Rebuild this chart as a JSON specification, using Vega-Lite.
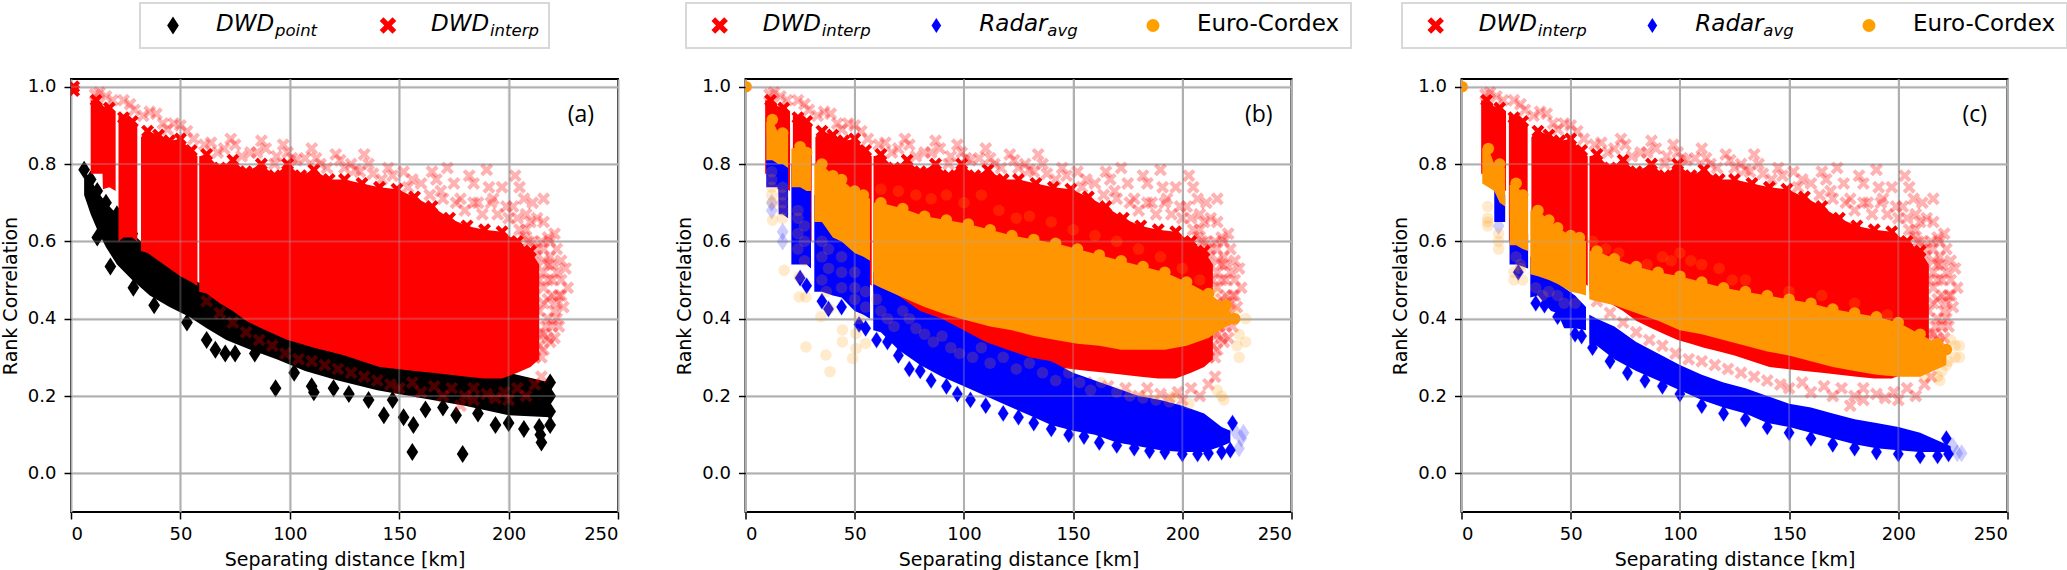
{"$schema":"https://vega.github.io/schema/vega-lite/v6.json","padding":{"top":2,"left":0,"right":0,"bottom":0},"background":"white","config":{"view":{"stroke":"black","strokeWidth":2},"font":"DejaVu Sans","axis":{"labelFont":"DejaVu Sans","titleFont":"DejaVu Sans","labelFontSize":18,"titleFontSize":19,"titleFontWeight":"normal","labelColor":"black","titleColor":"black","tickColor":"black","tickSize":7,"tickWidth":1.5,"domain":false,"grid":true,"gridColor":"#b0b0b0","gridWidth":2,"labelPadding":8},"axisX":{"titlePadding":7,"labelPadding":6},"axisY":{"titlePadding":7}},
"datasets":{
"gx":[{"x":50},{"x":100},{"x":150},{"x":200}],
"gy":[{"y":0},{"y":0.2},{"y":0.4},{"y":0.6},{"y":0.8},{"y":1}],
"one":[{"x":0.3,"y":1}],
"la":[{"x":233,"y":0.927,"t":"(a)"}],"lb":[{"x":235,"y":0.927,"t":"(b)"}],"lc":[{"x":235,"y":0.927,"t":"(c)"}],
"redO":[{"x":1.2,"y":1},{"x":1.2,"y":0.99}],
"redA":[{"g":1,"x":9,"y":0.965,"y2":0.775,"m":0},{"g":1,"x":11.5,"y":0.965,"y2":0.775},{"g":1,"x":14.4,"y":0.955,"y2":0.775,"m":0},{"g":1,"x":14.6,"y":0.95,"y2":0.735,"m":0},{"g":1,"x":17.5,"y":0.945,"y2":0.74},{"g":1,"x":20.4,"y":0.935,"y2":0.73,"m":0},{"g":2,"x":21.7,"y":0.925,"y2":0.6,"m":0},{"g":2,"x":24,"y":0.92,"y2":0.61},{"g":2,"x":28,"y":0.91,"y2":0.61},{"g":2,"x":30.3,"y":0.9,"y2":0.6,"m":0},{"g":3,"x":32,"y":0.87,"y2":0.575,"m":0},{"g":3,"x":35,"y":0.885,"y2":0.57},{"g":3,"x":40,"y":0.875,"y2":0.55},{"g":3,"x":45,"y":0.86,"y2":0.53},{"g":3,"x":50,"y":0.865,"y2":0.51},{"g":3,"x":55,"y":0.835,"y2":0.495},{"g":3,"x":57.8,"y":0.82,"y2":0.485,"m":0},{"g":4,"x":58.6,"y":0.82,"y2":0.47,"m":0},{"g":4,"x":62,"y":0.825,"y2":0.465},{"g":4,"x":68,"y":0.79,"y2":0.44},{"g":4,"x":74,"y":0.81,"y2":0.42},{"g":4,"x":80,"y":0.78,"y2":0.395},{"g":4,"x":87,"y":0.8,"y2":0.375},{"g":4,"x":93,"y":0.77,"y2":0.36},{"g":4,"x":99,"y":0.8,"y2":0.345},{"g":4,"x":105,"y":0.77,"y2":0.335},{"g":4,"x":111,"y":0.785,"y2":0.325},{"g":4,"x":118,"y":0.76,"y2":0.315},{"g":4,"x":125,"y":0.76,"y2":0.305},{"g":4,"x":133,"y":0.75,"y2":0.29},{"g":4,"x":141,"y":0.74,"y2":0.275},{"g":4,"x":149,"y":0.735,"y2":0.27},{"g":4,"x":157,"y":0.715,"y2":0.265},{"g":4,"x":165,"y":0.69,"y2":0.26},{"g":4,"x":173,"y":0.66,"y2":0.255},{"g":4,"x":181,"y":0.64,"y2":0.25},{"g":4,"x":189,"y":0.63,"y2":0.245},{"g":4,"x":197,"y":0.625,"y2":0.245},{"g":4,"x":204,"y":0.6,"y2":0.26},{"g":4,"x":210,"y":0.575,"y2":0.275},{"g":4,"x":214,"y":0.54,"y2":0.295,"m":0}],
"redPts":[{"x":11,"y":0.98},{"x":13,"y":0.985},{"x":16,"y":0.975},{"x":19,"y":0.965},{"x":24,"y":0.965},{"x":27,"y":0.955},{"x":29,"y":0.94},{"x":33,"y":0.925},{"x":36,"y":0.935},{"x":39,"y":0.93},{"x":42,"y":0.905},{"x":44,"y":0.89},{"x":47,"y":0.905},{"x":50,"y":0.9},{"x":53,"y":0.885},{"x":56,"y":0.865},{"x":61,"y":0.85},{"x":64,"y":0.855},{"x":67,"y":0.83},{"x":70,"y":0.84},{"x":73,"y":0.865},{"x":75,"y":0.85},{"x":78,"y":0.82},{"x":85,"y":0.83},{"x":87,"y":0.86},{"x":89,"y":0.84},{"x":93,"y":0.8},{"x":97,"y":0.85},{"x":99,"y":0.83},{"x":101,"y":0.815},{"x":107,"y":0.815},{"x":110,"y":0.84},{"x":112,"y":0.815},{"x":117,"y":0.79},{"x":121,"y":0.825},{"x":123,"y":0.81},{"x":125,"y":0.79},{"x":130,"y":0.785},{"x":134,"y":0.825},{"x":136,"y":0.8},{"x":138,"y":0.775},{"x":145,"y":0.79},{"x":147,"y":0.77},{"x":152,"y":0.78},{"x":156,"y":0.76},{"x":160,"y":0.75},{"x":165,"y":0.78},{"x":167,"y":0.76},{"x":169,"y":0.73},{"x":172,"y":0.79},{"x":175,"y":0.75},{"x":178,"y":0.71},{"x":182,"y":0.77},{"x":184,"y":0.75},{"x":186,"y":0.7},{"x":190,"y":0.785},{"x":191,"y":0.74},{"x":193,"y":0.71},{"x":197,"y":0.74},{"x":199,"y":0.69},{"x":203,"y":0.77},{"x":205,"y":0.74},{"x":207,"y":0.71},{"x":208,"y":0.67},{"x":211,"y":0.7},{"x":213,"y":0.66},{"x":216,"y":0.71},{"x":216,"y":0.65},{"x":218,"y":0.61},{"x":219,"y":0.56},{"x":221,"y":0.62},{"x":222,"y":0.58},{"x":222,"y":0.52},{"x":223,"y":0.46},{"x":224,"y":0.55},{"x":224,"y":0.5},{"x":225,"y":0.43},{"x":226,"y":0.53},{"x":227,"y":0.48},{"x":220,"y":0.5},{"x":218,"y":0.45},{"x":216,"y":0.55},{"x":214,"y":0.5},{"x":221,"y":0.42},{"x":223,"y":0.38},{"x":217,"y":0.38},{"x":214,"y":0.42},{"x":219,"y":0.34},{"x":221,"y":0.35},{"x":216,"y":0.32},{"x":205,"y":0.63},{"x":207,"y":0.61},{"x":209,"y":0.6},{"x":211,"y":0.6},{"x":213,"y":0.58},{"x":215,"y":0.6},{"x":210,"y":0.65},{"x":200,"y":0.66},{"x":195,"y":0.67},{"x":188,"y":0.67},{"x":180,"y":0.68},{"x":170,"y":0.71},{"x":216,"y":0.36},{"x":216,"y":0.44},{"x":216,"y":0.48},{"x":216,"y":0.52},{"x":218,"y":0.35},{"x":218,"y":0.4},{"x":218,"y":0.5},{"x":218,"y":0.54},{"x":220,"y":0.38},{"x":220,"y":0.46},{"x":220,"y":0.54},{"x":222,"y":0.44},{"x":222,"y":0.4},{"x":224,"y":0.46},{"x":212,"y":0.3},{"x":214,"y":0.33},{"x":214,"y":0.36},{"x":215,"y":0.3},{"x":212,"y":0.56},{"x":216,"y":0.58},{"x":219,"y":0.6},{"x":208,"y":0.63},{"x":204,"y":0.66},{"x":202,"y":0.69},{"x":192,"y":0.7},{"x":184,"y":0.7},{"x":176,"y":0.7},{"x":164,"y":0.72},{"x":154,"y":0.74},{"x":142,"y":0.76},{"x":132,"y":0.78},{"x":128,"y":0.8},{"x":114,"y":0.8},{"x":103,"y":0.81},{"x":94,"y":0.82},{"x":82,"y":0.83},{"x":62,"y":0.445},{"x":68,"y":0.415},{"x":74,"y":0.39},{"x":80,"y":0.365},{"x":86,"y":0.345},{"x":92,"y":0.33},{"x":98,"y":0.31},{"x":104,"y":0.295},{"x":110,"y":0.29},{"x":116,"y":0.28},{"x":122,"y":0.27},{"x":128,"y":0.26},{"x":134,"y":0.25},{"x":140,"y":0.24},{"x":146,"y":0.23},{"x":150,"y":0.22},{"x":156,"y":0.235},{"x":160,"y":0.21},{"x":166,"y":0.225},{"x":170,"y":0.2},{"x":174,"y":0.22},{"x":178,"y":0.175},{"x":180,"y":0.2},{"x":184,"y":0.19},{"x":184,"y":0.22},{"x":190,"y":0.205},{"x":194,"y":0.195},{"x":198,"y":0.21},{"x":200,"y":0.19},{"x":204,"y":0.22},{"x":208,"y":0.2},{"x":212,"y":0.23},{"x":215,"y":0.25}],
"blackA":[{"g":1,"x":6,"y":0.785,"y2":0.72},{"g":1,"x":9,"y":0.76,"y2":0.67},{"g":1,"x":12,"y":0.73,"y2":0.63},{"g":1,"x":16,"y":0.7,"y2":0.585},{"g":1,"x":21,"y":0.67,"y2":0.54},{"g":1,"x":28,"y":0.62,"y2":0.5},{"g":1,"x":36,"y":0.58,"y2":0.46},{"g":1,"x":45,"y":0.55,"y2":0.43},{"g":1,"x":54,"y":0.51,"y2":0.405},{"g":1,"x":62,"y":0.48,"y2":0.375},{"g":1,"x":71,"y":0.45,"y2":0.345},{"g":1,"x":82,"y":0.41,"y2":0.32},{"g":1,"x":94,"y":0.38,"y2":0.295},{"g":1,"x":107,"y":0.35,"y2":0.265},{"g":1,"x":122,"y":0.33,"y2":0.24},{"g":1,"x":140,"y":0.31,"y2":0.215},{"g":1,"x":160,"y":0.3,"y2":0.195},{"g":1,"x":180,"y":0.29,"y2":0.175},{"g":1,"x":200,"y":0.26,"y2":0.15},{"g":1,"x":219,"y":0.235,"y2":0.145}],
"blackPts":[{"x":12,"y":0.61},{"x":18,"y":0.535},{"x":28.5,"y":0.48},{"x":38,"y":0.435},{"x":53,"y":0.39},{"x":62,"y":0.345},{"x":66,"y":0.32},{"x":70.5,"y":0.31},{"x":75,"y":0.31},{"x":84,"y":0.31},{"x":93.5,"y":0.22},{"x":102,"y":0.26},{"x":111,"y":0.21},{"x":110,"y":0.225},{"x":120,"y":0.22},{"x":127,"y":0.205},{"x":136,"y":0.19},{"x":143,"y":0.15},{"x":152,"y":0.145},{"x":156,"y":0.055},{"x":156.5,"y":0.125},{"x":147,"y":0.19},{"x":162,"y":0.165},{"x":170,"y":0.17},{"x":176,"y":0.15},{"x":186,"y":0.155},{"x":194,"y":0.125},{"x":200,"y":0.13},{"x":207,"y":0.115},{"x":214,"y":0.12},{"x":215,"y":0.08},{"x":214.5,"y":0.1},{"x":219,"y":0.125},{"x":219,"y":0.16},{"x":219,"y":0.2},{"x":179,"y":0.05}],
"blueBA":[{"g":1,"x":9.5,"y":0.88,"y2":0.74,"m":0},{"g":1,"x":12,"y":0.88,"y2":0.74},{"g":1,"x":15,"y":0.85,"y2":0.74,"m":0},{"g":1,"x":15.2,"y":0.85,"y2":0.67,"m":0},{"g":1,"x":17,"y":0.85,"y2":0.67},{"g":1,"x":19.5,"y":0.84,"y2":0.66,"m":0},{"g":2,"x":21,"y":0.8,"y2":0.54,"m":0},{"g":2,"x":25,"y":0.79,"y2":0.54},{"g":2,"x":28,"y":0.78,"y2":0.54},{"g":2,"x":30,"y":0.78,"y2":0.53,"m":0},{"g":3,"x":31.5,"y":0.72,"y2":0.47,"m":0},{"g":3,"x":35,"y":0.72,"y2":0.47},{"g":3,"x":40,"y":0.66,"y2":0.46},{"g":3,"x":44,"y":0.64,"y2":0.455},{"g":3,"x":50,"y":0.61,"y2":0.42},{"g":3,"x":54,"y":0.6,"y2":0.41},{"g":3,"x":57,"y":0.58,"y2":0.4,"m":0},{"g":4,"x":58.5,"y":0.52,"y2":0.37,"m":0},{"g":4,"x":62,"y":0.51,"y2":0.365},{"g":4,"x":70,"y":0.46,"y2":0.32},{"g":4,"x":80,"y":0.42,"y2":0.28},{"g":4,"x":90,"y":0.4,"y2":0.25},{"g":4,"x":100,"y":0.37,"y2":0.225},{"g":4,"x":110,"y":0.34,"y2":0.2},{"g":4,"x":120,"y":0.32,"y2":0.175},{"g":4,"x":130,"y":0.3,"y2":0.15},{"g":4,"x":140,"y":0.29,"y2":0.125},{"g":4,"x":150,"y":0.26,"y2":0.11},{"g":4,"x":160,"y":0.24,"y2":0.1},{"g":4,"x":170,"y":0.22,"y2":0.08},{"g":4,"x":180,"y":0.2,"y2":0.07},{"g":4,"x":190,"y":0.19,"y2":0.06},{"g":4,"x":200,"y":0.175,"y2":0.055},{"g":4,"x":210,"y":0.155,"y2":0.055},{"g":4,"x":218,"y":0.12,"y2":0.07},{"g":4,"x":222,"y":0.11,"y2":0.08}],
"blueBPts":[{"x":12,"y":0.7},{"x":12,"y":0.68},{"x":17,"y":0.625},{"x":17,"y":0.6},{"x":25,"y":0.505},{"x":28,"y":0.485},{"x":35,"y":0.445},{"x":38,"y":0.425},{"x":44,"y":0.43},{"x":52,"y":0.385},{"x":55,"y":0.375},{"x":60,"y":0.345},{"x":65,"y":0.34},{"x":70,"y":0.305},{"x":75,"y":0.27},{"x":80,"y":0.265},{"x":85,"y":0.24},{"x":92,"y":0.225},{"x":97,"y":0.205},{"x":103,"y":0.19},{"x":110,"y":0.175},{"x":118,"y":0.155},{"x":125,"y":0.145},{"x":132,"y":0.13},{"x":140,"y":0.115},{"x":148,"y":0.1},{"x":155,"y":0.095},{"x":162,"y":0.08},{"x":170,"y":0.072},{"x":178,"y":0.065},{"x":185,"y":0.058},{"x":192,"y":0.055},{"x":200,"y":0.05},{"x":207,"y":0.05},{"x":212,"y":0.052},{"x":218,"y":0.055},{"x":222,"y":0.06},{"x":226,"y":0.065},{"x":228,"y":0.105},{"x":227,"y":0.09},{"x":224,"y":0.11},{"x":223,"y":0.13}],
"orangeBA":[{"g":1,"x":9.5,"y":0.91,"y2":0.81,"m":0},{"g":1,"x":12.3,"y":0.915,"y2":0.81},{"g":1,"x":15,"y":0.88,"y2":0.8,"m":0},{"g":1,"x":17,"y":0.88,"y2":0.8},{"g":1,"x":19.5,"y":0.875,"y2":0.79,"m":0},{"g":2,"x":21,"y":0.84,"y2":0.74,"m":0},{"g":2,"x":25,"y":0.845,"y2":0.74},{"g":2,"x":28,"y":0.83,"y2":0.73},{"g":2,"x":30,"y":0.82,"y2":0.73,"m":0},{"g":3,"x":31.5,"y":0.8,"y2":0.65,"m":0},{"g":3,"x":35,"y":0.8,"y2":0.65},{"g":3,"x":40,"y":0.77,"y2":0.61},{"g":3,"x":44,"y":0.76,"y2":0.6},{"g":3,"x":50,"y":0.73,"y2":0.57},{"g":3,"x":54,"y":0.72,"y2":0.56},{"g":3,"x":57,"y":0.71,"y2":0.55,"m":0},{"g":4,"x":58.5,"y":0.7,"y2":0.49,"m":0},{"g":4,"x":62,"y":0.7,"y2":0.48},{"g":4,"x":72,"y":0.685,"y2":0.455},{"g":4,"x":82,"y":0.665,"y2":0.43},{"g":4,"x":92,"y":0.655,"y2":0.41},{"g":4,"x":102,"y":0.645,"y2":0.395},{"g":4,"x":112,"y":0.63,"y2":0.38},{"g":4,"x":122,"y":0.615,"y2":0.37},{"g":4,"x":132,"y":0.605,"y2":0.355},{"g":4,"x":142,"y":0.595,"y2":0.345},{"g":4,"x":152,"y":0.58,"y2":0.335},{"g":4,"x":162,"y":0.565,"y2":0.33},{"g":4,"x":172,"y":0.55,"y2":0.32},{"g":4,"x":182,"y":0.535,"y2":0.32},{"g":4,"x":192,"y":0.52,"y2":0.32},{"g":4,"x":202,"y":0.495,"y2":0.33},{"g":4,"x":212,"y":0.465,"y2":0.35},{"g":4,"x":220,"y":0.435,"y2":0.38},{"g":4,"x":224,"y":0.4,"y2":0.39}],
"orangeBPts":[{"x":12.4,"y":0.655},{"x":12.4,"y":0.7},{"x":17.7,"y":0.525},{"x":24.6,"y":0.508},{"x":24.6,"y":0.456},{"x":27.7,"y":0.456},{"x":34.5,"y":0.405},{"x":38.3,"y":0.426},{"x":44.4,"y":0.371},{"x":44.4,"y":0.34},{"x":27.7,"y":0.327},{"x":36.8,"y":0.306},{"x":49,"y":0.297},{"x":38.7,"y":0.263},{"x":50.6,"y":0.323},{"x":55,"y":0.336},{"x":50.6,"y":0.362},{"x":12,"y":0.78},{"x":12,"y":0.76},{"x":12,"y":0.74},{"x":12,"y":0.72},{"x":17,"y":0.74},{"x":17,"y":0.72},{"x":17,"y":0.7},{"x":17,"y":0.68},{"x":17,"y":0.66},{"x":24,"y":0.68},{"x":24,"y":0.66},{"x":27,"y":0.64},{"x":24,"y":0.62},{"x":27,"y":0.6},{"x":24,"y":0.58},{"x":27,"y":0.55},{"x":35,"y":0.6},{"x":35,"y":0.56},{"x":38,"y":0.58},{"x":38,"y":0.53},{"x":35,"y":0.5},{"x":37,"y":0.47},{"x":44,"y":0.56},{"x":44,"y":0.52},{"x":44,"y":0.48},{"x":50,"y":0.52},{"x":50,"y":0.48},{"x":50,"y":0.45},{"x":55,"y":0.47},{"x":55,"y":0.43},{"x":52,"y":0.4},{"x":60,"y":0.45},{"x":62,"y":0.42},{"x":65,"y":0.4},{"x":68,"y":0.38},{"x":72,"y":0.42},{"x":75,"y":0.4},{"x":78,"y":0.375},{"x":82,"y":0.36},{"x":86,"y":0.34},{"x":90,"y":0.355},{"x":94,"y":0.325},{"x":98,"y":0.31},{"x":104,"y":0.3},{"x":108,"y":0.325},{"x":112,"y":0.285},{"x":118,"y":0.3},{"x":124,"y":0.27},{"x":130,"y":0.285},{"x":136,"y":0.26},{"x":142,"y":0.24},{"x":148,"y":0.26},{"x":153,"y":0.235},{"x":158,"y":0.215},{"x":163,"y":0.235},{"x":170,"y":0.21},{"x":176,"y":0.2},{"x":182,"y":0.195},{"x":188,"y":0.19},{"x":194,"y":0.185},{"x":196,"y":0.2},{"x":203,"y":0.18},{"x":218,"y":0.2},{"x":219,"y":0.19},{"x":216,"y":0.215},{"x":62,"y":0.735},{"x":70,"y":0.73},{"x":78,"y":0.72},{"x":85,"y":0.71},{"x":92,"y":0.72},{"x":100,"y":0.7},{"x":108,"y":0.72},{"x":116,"y":0.68},{"x":124,"y":0.66},{"x":130,"y":0.665},{"x":140,"y":0.65},{"x":150,"y":0.63},{"x":160,"y":0.615},{"x":170,"y":0.6},{"x":180,"y":0.58},{"x":190,"y":0.56},{"x":200,"y":0.53},{"x":208,"y":0.5},{"x":215,"y":0.47},{"x":220,"y":0.44},{"x":224,"y":0.42},{"x":229,"y":0.4},{"x":229,"y":0.34},{"x":226,"y":0.36},{"x":226,"y":0.3},{"x":225,"y":0.33}],
"blueCA":[{"g":1,"x":15,"y":0.74,"y2":0.65,"m":0},{"g":1,"x":17,"y":0.74,"y2":0.65},{"g":1,"x":20,"y":0.72,"y2":0.65,"m":0},{"g":2,"x":22,"y":0.66,"y2":0.54,"m":0},{"g":2,"x":25,"y":0.66,"y2":0.54},{"g":2,"x":28,"y":0.65,"y2":0.535},{"g":2,"x":30.5,"y":0.62,"y2":0.53,"m":0},{"g":3,"x":31.5,"y":0.56,"y2":0.455,"m":0},{"g":3,"x":35,"y":0.56,"y2":0.46},{"g":3,"x":41,"y":0.52,"y2":0.42,"m":0},{"g":3,"x":44,"y":0.5,"y2":0.415},{"g":3,"x":47,"y":0.48,"y2":0.375,"m":0},{"g":3,"x":52,"y":0.46,"y2":0.375},{"g":3,"x":57,"y":0.43,"y2":0.37,"m":0},{"g":4,"x":58.5,"y":0.41,"y2":0.335,"m":0},{"g":4,"x":62,"y":0.4,"y2":0.33},{"g":4,"x":70,"y":0.38,"y2":0.295},{"g":4,"x":80,"y":0.34,"y2":0.265},{"g":4,"x":90,"y":0.31,"y2":0.24},{"g":4,"x":100,"y":0.28,"y2":0.215},{"g":4,"x":110,"y":0.255,"y2":0.19},{"g":4,"x":120,"y":0.235,"y2":0.17},{"g":4,"x":130,"y":0.22,"y2":0.155},{"g":4,"x":140,"y":0.2,"y2":0.13},{"g":4,"x":150,"y":0.18,"y2":0.12},{"g":4,"x":160,"y":0.17,"y2":0.105},{"g":4,"x":170,"y":0.155,"y2":0.09},{"g":4,"x":180,"y":0.14,"y2":0.075},{"g":4,"x":190,"y":0.13,"y2":0.065},{"g":4,"x":200,"y":0.12,"y2":0.06},{"g":4,"x":210,"y":0.105,"y2":0.055},{"g":4,"x":218,"y":0.085,"y2":0.055},{"g":4,"x":224,"y":0.07,"y2":0.055}],
"blueCPts":[{"x":17,"y":0.64},{"x":26,"y":0.52},{"x":34,"y":0.44},{"x":38,"y":0.435},{"x":44,"y":0.405},{"x":52,"y":0.36},{"x":55,"y":0.355},{"x":60,"y":0.325},{"x":68,"y":0.29},{"x":76,"y":0.26},{"x":84,"y":0.24},{"x":92,"y":0.225},{"x":100,"y":0.205},{"x":110,"y":0.175},{"x":120,"y":0.155},{"x":130,"y":0.14},{"x":140,"y":0.12},{"x":150,"y":0.105},{"x":160,"y":0.09},{"x":170,"y":0.075},{"x":180,"y":0.065},{"x":190,"y":0.055},{"x":200,"y":0.05},{"x":210,"y":0.045},{"x":218,"y":0.045},{"x":223,"y":0.05},{"x":227,"y":0.052},{"x":229,"y":0.052},{"x":225,"y":0.07},{"x":222,"y":0.09}],
"orangeCA":[{"g":1,"x":9.5,"y":0.84,"y2":0.75,"m":0},{"g":1,"x":12.3,"y":0.84,"y2":0.74},{"g":1,"x":15,"y":0.8,"y2":0.73,"m":0},{"g":1,"x":17.5,"y":0.8,"y2":0.7},{"g":1,"x":20,"y":0.79,"y2":0.69,"m":0},{"g":2,"x":22,"y":0.745,"y2":0.59,"m":0},{"g":2,"x":25,"y":0.75,"y2":0.59},{"g":2,"x":28,"y":0.72,"y2":0.58},{"g":2,"x":30.5,"y":0.71,"y2":0.575,"m":0},{"g":3,"x":31.5,"y":0.68,"y2":0.515,"m":0},{"g":3,"x":35,"y":0.68,"y2":0.51},{"g":3,"x":40,"y":0.655,"y2":0.5},{"g":3,"x":44,"y":0.635,"y2":0.49},{"g":3,"x":50,"y":0.615,"y2":0.47},{"g":3,"x":54,"y":0.61,"y2":0.465},{"g":3,"x":57,"y":0.6,"y2":0.46,"m":0},{"g":4,"x":58.5,"y":0.575,"y2":0.45,"m":0},{"g":4,"x":62,"y":0.575,"y2":0.445},{"g":4,"x":70,"y":0.555,"y2":0.435},{"g":4,"x":80,"y":0.535,"y2":0.415},{"g":4,"x":90,"y":0.52,"y2":0.395},{"g":4,"x":100,"y":0.51,"y2":0.37},{"g":4,"x":110,"y":0.495,"y2":0.36},{"g":4,"x":120,"y":0.48,"y2":0.345},{"g":4,"x":130,"y":0.47,"y2":0.33},{"g":4,"x":140,"y":0.46,"y2":0.315},{"g":4,"x":150,"y":0.45,"y2":0.305},{"g":4,"x":160,"y":0.44,"y2":0.29},{"g":4,"x":170,"y":0.425,"y2":0.275},{"g":4,"x":180,"y":0.415,"y2":0.265},{"g":4,"x":190,"y":0.405,"y2":0.255},{"g":4,"x":200,"y":0.39,"y2":0.25},{"g":4,"x":210,"y":0.36,"y2":0.25},{"g":4,"x":218,"y":0.335,"y2":0.27},{"g":4,"x":222,"y":0.32,"y2":0.28}],
"orangeCPts":[{"x":12,"y":0.69},{"x":12,"y":0.65},{"x":12,"y":0.64},{"x":12,"y":0.66},{"x":17,"y":0.6},{"x":17,"y":0.58},{"x":17,"y":0.62},{"x":24,"y":0.52},{"x":24,"y":0.5},{"x":27,"y":0.54},{"x":25,"y":0.56},{"x":28,"y":0.5},{"x":27,"y":0.53},{"x":34,"y":0.48},{"x":37,"y":0.46},{"x":40,"y":0.47},{"x":44,"y":0.46},{"x":47,"y":0.44},{"x":52,"y":0.44},{"x":60,"y":0.6},{"x":66,"y":0.58},{"x":72,"y":0.57},{"x":85,"y":0.54},{"x":92,"y":0.56},{"x":96,"y":0.55},{"x":100,"y":0.57},{"x":105,"y":0.55},{"x":110,"y":0.54},{"x":118,"y":0.53},{"x":124,"y":0.5},{"x":130,"y":0.5},{"x":150,"y":0.47},{"x":165,"y":0.46},{"x":180,"y":0.44},{"x":195,"y":0.41},{"x":226,"y":0.33},{"x":228,"y":0.33},{"x":226,"y":0.3},{"x":228,"y":0.3},{"x":222,"y":0.28},{"x":220,"y":0.265},{"x":218,"y":0.25},{"x":219,"y":0.24},{"x":224,"y":0.345},{"x":223,"y":0.29},{"x":212,"y":0.25}],
"legA":[{"k":"DWDpoint","main":"DWD","sub":"point","s":"k"},{"k":"DWDinterp","main":"DWD","sub":"interp","s":"x"}],
"legB":[{"k":"DWDinterp","main":"DWD","sub":"interp","s":"x"},{"k":"Radaravg","main":"Radar","sub":"avg","s":"d"},{"k":"Euro-Cordex","main":"Euro-Cordex","sub":"","s":"c"}]
},
"hconcat":[
{"vconcat":[
{"width":409,"height":45,"view":{"stroke":"#d8d8d8","strokeWidth":2},"data":{"name":"legA"},"encoding":{"x":{"field":"k","type":"nominal","sort":null,"scale":{"type":"point","padding":0,"domain":["DWDpoint","DWDinterp"],"range":[33,248]},"axis":null}},"layer":[
{"mark":{"type":"point","filled":true,"opacity":1},"encoding":{"shape":{"field":"s","type":"nominal","legend":null,"scale":{"domain":["k","x","d","c"],"range":["M0,-1L0.65,0L0,1L-0.65,0Z","M-1,-0.55L-0.55,-1L0,-0.45L0.55,-1L1,-0.55L0.45,0L1,0.55L0.55,1L0,0.45L-0.55,1L-1,0.55L-0.45,0Z","M0,-1L0.65,0L0,1L-0.65,0Z","circle"]}},"color":{"field":"s","type":"nominal","legend":null,"scale":{"domain":["k","x","d","c"],"range":["black","#ff0000","#0000ff","#ffa000"]}},"size":{"field":"s","type":"nominal","legend":null,"scale":{"domain":["k","x","d","c"],"range":[324,169,324,154]}}}},
{"mark":{"type":"text","align":"left","dx":43,"dy":-2,"fontSize":23,"fontStyle":"italic","color":"black"},"encoding":{"text":{"field":"main"}}},
{"mark":{"type":"text","align":"left","dx":102,"dy":5,"fontSize":16.5,"fontStyle":"italic","color":"black"},"encoding":{"text":{"field":"sub"}}}
]},
{"width":547,"height":433,"encoding":{"x":{"field":"x","type":"quantitative","title":"Separating distance [km]","scale":{"domain":[0,250],"nice":false},"axis":{"values":[0,50,100,150,200,250]}},"y":{"field":"y","type":"quantitative","title":"Rank Correlation","scale":{"domain":[-0.1,1.02],"nice":false,"zero":false},"axis":{"values":[0,0.2,0.4,0.6,0.8,1],"format":".1f"}}},"layer":[
{"data":{"name":"blackA"},"mark":{"type":"area","color":"black","clip":true,"opacity":1},"encoding":{"y2":{"field":"y2"},"detail":{"field":"g","type":"nominal"}}},
{"data":{"name":"blackA"},"mark":{"type":"point","filled":true,"color":"black","opacity":1,"size":324,"shape":"M0,-1L0.65,0L0,1L-0.65,0Z","clip":true}},
{"data":{"name":"blackPts"},"mark":{"type":"point","filled":true,"color":"black","opacity":1,"size":324,"shape":"M0,-1L0.65,0L0,1L-0.65,0Z","clip":true}},
{"data":{"name":"redA"},"mark":{"type":"area","color":"#ff0000","clip":true,"opacity":1},"encoding":{"y2":{"field":"y2"},"detail":{"field":"g","type":"nominal"}}},
{"data":{"name":"redA"},"transform":[{"filter":"datum.m!==0"}],"mark":{"type":"point","filled":true,"color":"#ff0000","opacity":1,"size":169,"shape":"M-1,-0.55L-0.55,-1L0,-0.45L0.55,-1L1,-0.55L0.45,0L1,0.55L0.55,1L0,0.45L-0.55,1L-1,0.55L-0.45,0Z","clip":true}},
{"data":{"name":"redPts"},"mark":{"type":"point","filled":true,"color":"#ff0000","opacity":0.3,"size":169,"shape":"M-1,-0.55L-0.55,-1L0,-0.45L0.55,-1L1,-0.55L0.45,0L1,0.55L0.55,1L0,0.45L-0.55,1L-1,0.55L-0.45,0Z","clip":true}},
{"data":{"name":"redO"},"mark":{"type":"point","filled":true,"color":"#ff0000","opacity":1,"size":169,"shape":"M-1,-0.55L-0.55,-1L0,-0.45L0.55,-1L1,-0.55L0.45,0L1,0.55L0.55,1L0,0.45L-0.55,1L-1,0.55L-0.45,0Z","clip":true}},
{"data":{"name":"gx"},"mark":{"type":"rule","color":"#b0b0b0","strokeWidth":2,"opacity":0.3},"encoding":{"y":null}},
{"data":{"name":"gy"},"mark":{"type":"rule","color":"#b0b0b0","strokeWidth":2,"opacity":0.3},"encoding":{"x":null}},
{"data":{"name":"la"},"mark":{"type":"text","font":"Open Sans","fontSize":23,"color":"black"},"encoding":{"text":{"field":"t"}}}
]}
],"spacing":31,"center":true,"bounds":"flush"},
{"hconcat":[
{"vconcat":[
{"width":665,"height":45,"view":{"stroke":"#d8d8d8","strokeWidth":2},"data":{"name":"legB"},"encoding":{"x":{"field":"k","type":"nominal","sort":null,"scale":{"type":"point","padding":0,"domain":["DWDinterp","Radaravg","Euro-Cordex"],"range":[33.7,467]},"axis":null}},"layer":[
{"mark":{"type":"point","filled":true,"opacity":1},"encoding":{"shape":{"field":"s","type":"nominal","legend":null,"scale":{"domain":["k","x","d","c"],"range":["M0,-1L0.65,0L0,1L-0.65,0Z","M-1,-0.55L-0.55,-1L0,-0.45L0.55,-1L1,-0.55L0.45,0L1,0.55L0.55,1L0,0.45L-0.55,1L-1,0.55L-0.45,0Z","M0,-1L0.65,0L0,1L-0.65,0Z","circle"]}},"color":{"field":"s","type":"nominal","legend":null,"scale":{"domain":["k","x","d","c"],"range":["black","#ff0000","#0000ff","#ffa000"]}},"size":{"field":"s","type":"nominal","legend":null,"scale":{"domain":["k","x","d","c"],"range":[324,169,324,154]}}}},
{"mark":{"type":"text","align":"left","dx":43,"dy":-2,"fontSize":23,"fontStyle":"italic","color":"black"},"transform":[{"filter":"datum.s!='c'"}],"encoding":{"text":{"field":"main"}}},
{"mark":{"type":"text","align":"left","dx":44,"dy":-2,"fontSize":23,"color":"black"},"transform":[{"filter":"datum.s=='c'"}],"encoding":{"text":{"field":"main"}}},
{"mark":{"type":"text","align":"left","dx":102,"dy":5,"fontSize":16.5,"fontStyle":"italic","color":"black"},"transform":[{"filter":"datum.s=='x'"}],"encoding":{"text":{"field":"sub"}}},
{"mark":{"type":"text","align":"left","dx":111,"dy":5,"fontSize":16.5,"fontStyle":"italic","color":"black"},"transform":[{"filter":"datum.s=='d'"}],"encoding":{"text":{"field":"sub"}}}
]},
{"width":546,"height":433,"encoding":{"x":{"field":"x","type":"quantitative","title":"Separating distance [km]","scale":{"domain":[0,250],"nice":false},"axis":{"values":[0,50,100,150,200,250]}},"y":{"field":"y","type":"quantitative","title":"Rank Correlation","scale":{"domain":[-0.1,1.02],"nice":false,"zero":false},"axis":{"values":[0,0.2,0.4,0.6,0.8,1],"format":".1f"}}},"layer":[
{"data":{"name":"redA"},"mark":{"type":"area","color":"#ff0000","clip":true,"opacity":1},"encoding":{"y2":{"field":"y2"},"detail":{"field":"g","type":"nominal"}}},
{"data":{"name":"redA"},"transform":[{"filter":"datum.m!==0"}],"mark":{"type":"point","filled":true,"color":"#ff0000","opacity":1,"size":169,"shape":"M-1,-0.55L-0.55,-1L0,-0.45L0.55,-1L1,-0.55L0.45,0L1,0.55L0.55,1L0,0.45L-0.55,1L-1,0.55L-0.45,0Z","clip":true}},
{"data":{"name":"redPts"},"mark":{"type":"point","filled":true,"color":"#ff0000","opacity":0.3,"size":169,"shape":"M-1,-0.55L-0.55,-1L0,-0.45L0.55,-1L1,-0.55L0.45,0L1,0.55L0.55,1L0,0.45L-0.55,1L-1,0.55L-0.45,0Z","clip":true}},
{"data":{"name":"blueBA"},"mark":{"type":"area","color":"#0000ff","clip":true,"opacity":1},"encoding":{"y2":{"field":"y2"},"detail":{"field":"g","type":"nominal"}}},
{"data":{"name":"blueBPts"},"transform":[{"filter":"datum.x>20&&datum.x<224"}],"mark":{"type":"point","filled":true,"color":"#0000ff","opacity":1,"size":260,"shape":"M0,-1L0.65,0L0,1L-0.65,0Z","clip":true}},
{"data":{"name":"blueBPts"},"mark":{"type":"point","filled":true,"color":"#0000ff","opacity":0.2,"size":324,"shape":"M0,-1L0.65,0L0,1L-0.65,0Z","clip":true}},
{"data":{"name":"orangeBA"},"mark":{"type":"area","color":"#ff9500","clip":true,"opacity":1},"encoding":{"y2":{"field":"y2"},"detail":{"field":"g","type":"nominal"}}},
{"data":{"name":"orangeBA"},"transform":[{"filter":"datum.m!==0"}],"mark":{"type":"point","filled":true,"color":"#ff9500","opacity":1,"size":133,"shape":"circle","clip":true}},
{"data":{"name":"orangeBPts"},"mark":{"type":"point","filled":true,"color":"#ff9500","opacity":0.2,"size":133,"shape":"circle","clip":true}},
{"data":{"name":"one"},"mark":{"type":"point","filled":true,"color":"#ff9500","opacity":1,"size":133,"shape":"circle","clip":true}},
{"data":{"name":"gx"},"mark":{"type":"rule","color":"#b0b0b0","strokeWidth":2,"opacity":0.3},"encoding":{"y":null}},
{"data":{"name":"gy"},"mark":{"type":"rule","color":"#b0b0b0","strokeWidth":2,"opacity":0.3},"encoding":{"x":null}},
{"data":{"name":"lb"},"mark":{"type":"text","font":"Open Sans","fontSize":23,"color":"black"},"encoding":{"text":{"field":"t"}}}
]}
],"spacing":31,"center":true,"bounds":"flush"},
{"vconcat":[
{"width":665,"height":45,"view":{"stroke":"#d8d8d8","strokeWidth":2},"data":{"name":"legB"},"encoding":{"x":{"field":"k","type":"nominal","sort":null,"scale":{"type":"point","padding":0,"domain":["DWDinterp","Radaravg","Euro-Cordex"],"range":[33.7,467]},"axis":null}},"layer":[
{"mark":{"type":"point","filled":true,"opacity":1},"encoding":{"shape":{"field":"s","type":"nominal","legend":null,"scale":{"domain":["k","x","d","c"],"range":["M0,-1L0.65,0L0,1L-0.65,0Z","M-1,-0.55L-0.55,-1L0,-0.45L0.55,-1L1,-0.55L0.45,0L1,0.55L0.55,1L0,0.45L-0.55,1L-1,0.55L-0.45,0Z","M0,-1L0.65,0L0,1L-0.65,0Z","circle"]}},"color":{"field":"s","type":"nominal","legend":null,"scale":{"domain":["k","x","d","c"],"range":["black","#ff0000","#0000ff","#ffa000"]}},"size":{"field":"s","type":"nominal","legend":null,"scale":{"domain":["k","x","d","c"],"range":[324,169,324,154]}}}},
{"mark":{"type":"text","align":"left","dx":43,"dy":-2,"fontSize":23,"fontStyle":"italic","color":"black"},"transform":[{"filter":"datum.s!='c'"}],"encoding":{"text":{"field":"main"}}},
{"mark":{"type":"text","align":"left","dx":44,"dy":-2,"fontSize":23,"color":"black"},"transform":[{"filter":"datum.s=='c'"}],"encoding":{"text":{"field":"main"}}},
{"mark":{"type":"text","align":"left","dx":102,"dy":5,"fontSize":16.5,"fontStyle":"italic","color":"black"},"transform":[{"filter":"datum.s=='x'"}],"encoding":{"text":{"field":"sub"}}},
{"mark":{"type":"text","align":"left","dx":111,"dy":5,"fontSize":16.5,"fontStyle":"italic","color":"black"},"transform":[{"filter":"datum.s=='d'"}],"encoding":{"text":{"field":"sub"}}}
]},
{"width":546,"height":433,"encoding":{"x":{"field":"x","type":"quantitative","title":"Separating distance [km]","scale":{"domain":[0,250],"nice":false},"axis":{"values":[0,50,100,150,200,250]}},"y":{"field":"y","type":"quantitative","title":"Rank Correlation","scale":{"domain":[-0.1,1.02],"nice":false,"zero":false},"axis":{"values":[0,0.2,0.4,0.6,0.8,1],"format":".1f"}}},"layer":[
{"data":{"name":"redA"},"mark":{"type":"area","color":"#ff0000","clip":true,"opacity":1},"encoding":{"y2":{"field":"y2"},"detail":{"field":"g","type":"nominal"}}},
{"data":{"name":"redA"},"transform":[{"filter":"datum.m!==0"}],"mark":{"type":"point","filled":true,"color":"#ff0000","opacity":1,"size":169,"shape":"M-1,-0.55L-0.55,-1L0,-0.45L0.55,-1L1,-0.55L0.45,0L1,0.55L0.55,1L0,0.45L-0.55,1L-1,0.55L-0.45,0Z","clip":true}},
{"data":{"name":"redPts"},"mark":{"type":"point","filled":true,"color":"#ff0000","opacity":0.3,"size":169,"shape":"M-1,-0.55L-0.55,-1L0,-0.45L0.55,-1L1,-0.55L0.45,0L1,0.55L0.55,1L0,0.45L-0.55,1L-1,0.55L-0.45,0Z","clip":true}},
{"data":{"name":"blueCA"},"mark":{"type":"area","color":"#0000ff","clip":true,"opacity":1},"encoding":{"y2":{"field":"y2"},"detail":{"field":"g","type":"nominal"}}},
{"data":{"name":"blueCPts"},"transform":[{"filter":"datum.x>20&&datum.x<224"}],"mark":{"type":"point","filled":true,"color":"#0000ff","opacity":1,"size":260,"shape":"M0,-1L0.65,0L0,1L-0.65,0Z","clip":true}},
{"data":{"name":"blueCPts"},"mark":{"type":"point","filled":true,"color":"#0000ff","opacity":0.2,"size":324,"shape":"M0,-1L0.65,0L0,1L-0.65,0Z","clip":true}},
{"data":{"name":"orangeCA"},"mark":{"type":"area","color":"#ff9500","clip":true,"opacity":1},"encoding":{"y2":{"field":"y2"},"detail":{"field":"g","type":"nominal"}}},
{"data":{"name":"orangeCA"},"transform":[{"filter":"datum.m!==0"}],"mark":{"type":"point","filled":true,"color":"#ff9500","opacity":1,"size":133,"shape":"circle","clip":true}},
{"data":{"name":"orangeCPts"},"mark":{"type":"point","filled":true,"color":"#ff9500","opacity":0.2,"size":133,"shape":"circle","clip":true}},
{"data":{"name":"one"},"mark":{"type":"point","filled":true,"color":"#ff9500","opacity":1,"size":133,"shape":"circle","clip":true}},
{"data":{"name":"gx"},"mark":{"type":"rule","color":"#b0b0b0","strokeWidth":2,"opacity":0.3},"encoding":{"y":null}},
{"data":{"name":"gy"},"mark":{"type":"rule","color":"#b0b0b0","strokeWidth":2,"opacity":0.3},"encoding":{"x":null}},
{"data":{"name":"lc"},"mark":{"type":"text","font":"Open Sans","fontSize":23,"color":"black"},"encoding":{"text":{"field":"t"}}}
]}
],"spacing":31,"center":true,"bounds":"flush"}
],"spacing":38}
],"spacing":54}
